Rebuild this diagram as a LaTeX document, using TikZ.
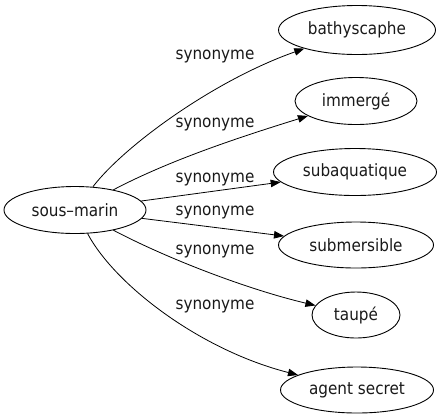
\documentclass[tikz,border=0pt]{standalone}
\usepackage{fontspec}
\setmainfont{DejaVu Sans Condensed}
\usetikzlibrary{shapes.geometric,arrows.meta}
\begin{document}
\begin{tikzpicture}[x=1bp,y=-1bp,
  word/.style={ellipse,draw,line width=0.9bp,inner sep=0pt,font=\fontsize{17}{20}\selectfont,text=black!90},
  lab/.style={inner sep=0pt,font=\fontsize{17}{20}\selectfont,text=black!90},
  edge/.style={line width=0.8bp,-{Triangle[length=10bp,width=7.5bp]}}]
\useasboundingbox (0,0) rectangle (445,419);
\node[word,minimum width=142bp,minimum height=47bp] (sm) at (75,210) {sous–marin};
\node[word,minimum width=157bp,minimum height=49bp] (b) at (357,30) {bathyscaphe};
\node[word,minimum width=122bp,minimum height=47bp] (i) at (356,101) {immergé};
\node[word,minimum width=163bp,minimum height=47bp] (sa) at (355,172) {subaquatique};
\node[word,minimum width=155bp,minimum height=46bp] (sb) at (356,245) {submersible};
\node[word,minimum width=88bp,minimum height=46bp] (t) at (356,315) {taupé};
\node[word,minimum width=153bp,minimum height=46bp] (a) at (357,390) {agent secret};
\node[lab] (l1) at (215,57) {synonyme};
\node[lab] (l2) at (215,125) {synonyme};
\node[lab] (l3) at (215,180) {synonyme};
\node[lab] (l4) at (215,213) {synonyme};
\node[lab] (l5) at (215,252) {synonyme};
\node[lab] (l6) at (215,307) {synonyme};
\draw[edge] (sm) .. controls (125,145) and (215,80) .. (b);
\draw[edge] (sm) .. controls (170,160) and (240,137) .. (i);
\draw[edge] (sm) -- (sa);
\draw[edge] (sm) -- (sb);
\draw[edge] (sm) .. controls (170,260) and (250,290) .. (t);
\draw[edge] (sm) .. controls (115,285) and (200,350) .. (a);
\end{tikzpicture}
\end{document}
